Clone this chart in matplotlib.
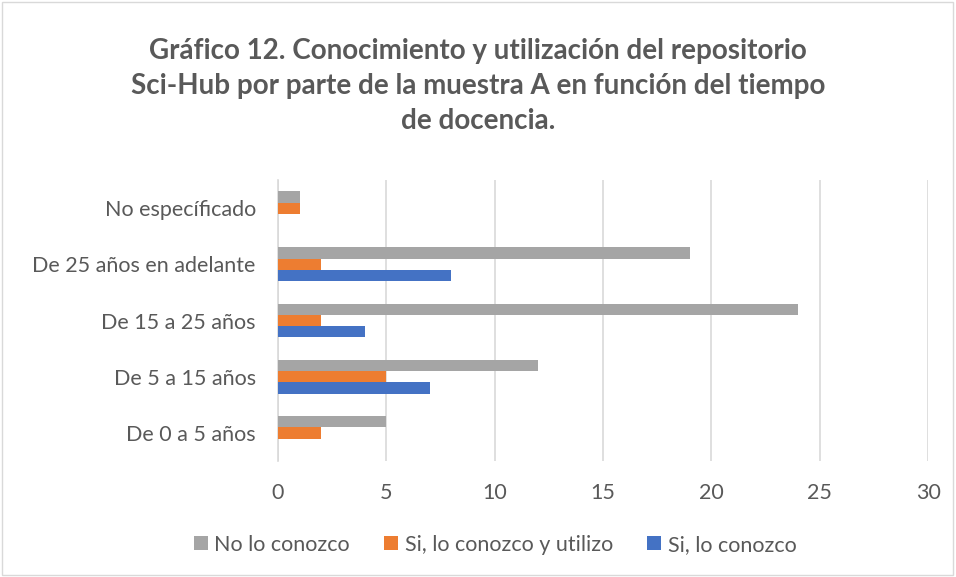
import numpy as np
import matplotlib.pyplot as plt
from matplotlib.patches import Rectangle

categorias = ['No especíﬁcado', 'De 25 años en adelante', 'De 15 a 25 años',
              'De 5 a 15 años', 'De 0 a 5 años']
no_conozco = [1, 19, 24, 12, 5]
conozco_utilizo = [1, 2, 2, 5, 2]
conozco = [0, 8, 4, 7, 0]

plt.rcParams['font.family'] = ['Lato', 'DejaVu Sans']
texto = '#595959'

fig = plt.figure(figsize=(9.56, 5.77), dpi=100)
ax = fig.add_axes([0.2908, 0.201, 0.68, 0.487])

y = np.arange(len(categorias))
h = 0.2
ax.barh(y - h, no_conozco, height=h, color='#A5A5A5', label='No lo conozco', zorder=3)
ax.barh(y, conozco_utilizo, height=h, color='#ED7D31', label='Si, lo conozco y utilizo', zorder=3)
ax.barh(y + h, conozco, height=h, color='#4472C4', label='Si, lo conozco', zorder=3)

ax.set_ylim(4.5, -0.5)
ax.set_xlim(0, 30)
ax.set_xticks(range(0, 31, 5))
ax.set_yticks(y)
ax.set_yticklabels(categorias)
ax.tick_params(axis='both', length=0, labelsize=15.5, colors=texto)
ax.tick_params(axis='x', pad=16)
ax.tick_params(axis='y', pad=16)
ax.grid(axis='x', color='#D9D9D9', linewidth=1.2, zorder=0)
for s in ['top', 'right', 'bottom']:
    ax.spines[s].set_visible(False)
ax.spines['left'].set_color('#D9D9D9')
ax.spines['left'].set_linewidth(1.2)

fig.text(0.5, 0.851, 'Gráfico 12. Conocimiento y utilización del repositorio\n'
         'Sci-Hub por parte de la muestra A en función del tiempo\n'
         'de docencia.', ha='center', va='center', fontsize=20, fontweight='bold',
         color=texto, linespacing=1.43)

ax.legend(loc='center', bbox_to_anchor=(0.518, 0.056), bbox_transform=fig.transFigure,
          ncol=3, frameon=False, fontsize=15.5, handlelength=0.65, handleheight=0.65,
          handletextpad=0.3, columnspacing=1.6, labelcolor=texto)

fig.patches.append(Rectangle((0.002, 0.003), 0.995, 0.993, transform=fig.transFigure,
                             fill=False, edgecolor='#D9D9D9', linewidth=1))

fig.savefig('out.png', dpi=100)
